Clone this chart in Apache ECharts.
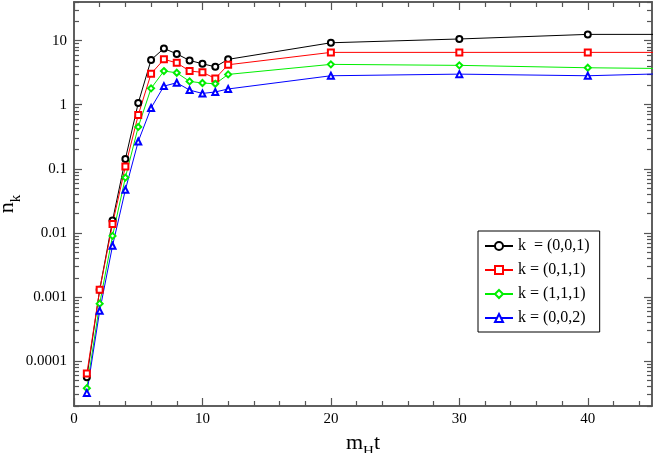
<!DOCTYPE html>
<html>
<head>
<meta charset="utf-8">
<script src="https://cdn.jsdelivr.net/npm/echarts@6/dist/echarts.min.js"></script>
<style>
  html, body { margin: 0; padding: 0; background: #fff; }
  #chartArea { width: 654px; height: 453px; }
</style>
</head>
<body>
<div id="chartArea"></div>
<script>
// time points (m_H t); the last one lies past the right edge and is clipped
let times = [1, 2, 3, 4, 5, 6, 7, 8, 9, 10, 11, 12, 20, 30, 40, 50];

let n001 = [5.6e-5, 0.0013, 0.0156, 0.142, 1.06, 5.0, 7.55, 6.2, 4.9, 4.35, 3.9, 5.1, 9.25, 10.6, 12.5, 12.5];
let n011 = [6.4e-5, 0.0013, 0.0138, 0.109, 0.69, 3.04, 5.1, 4.5, 3.35, 3.2, 2.57, 4.2, 6.55, 6.55, 6.55, 6.55];
let n111 = [3.8e-5, 0.00079, 0.0090, 0.073, 0.45, 1.80, 3.35, 3.15, 2.31, 2.18, 2.12, 2.97, 4.26, 4.11, 3.77, 3.6];
let n002 = [3.2e-5, 0.00061, 0.0063, 0.047, 0.267, 0.89, 1.95, 2.2, 1.69, 1.5, 1.58, 1.76, 2.83, 3.0, 2.83, 3.2];

let seriesNames = ['k  = (0,0,1)', 'k = (0,1,1)', 'k = (1,1,1)', 'k = (0,0,2)'];
let seriesColors = ['#000000', '#ff0000', '#00ee00', '#0000ff'];
let seriesSymbols = ['emptyCircle', 'emptyRect', 'emptyDiamond', 'emptyTriangle'];

let xMajorTicks = [0, 10, 20, 30, 40];
let xMinorTicks = [2, 4, 6, 8, 12, 14, 16, 18, 22, 24, 26, 28, 32, 34, 36, 38, 42, 44];
let yMajorTicks = [0.0001, 0.001, 0.01, 0.1, 1, 10];
let yTickLabels = ['0.0001', '0.001', '0.01', '0.1', '1', '10'];

let yMin = 2e-5;
let yMax = 40;

let serif = 'Liberation Serif';
let axisColor = '#555';

// minor log ticks: 2..9 times each decade, inside the range
let yMinorTicks = [];
for (let e = -5; e <= 1; e++) {
    for (let m = 2; m <= 9; m++) {
        let v = m * Math.pow(10, e);
        if (v >= yMin && v <= yMax) yMinorTicks.push(v);
    }
}

function pairs(ys) {
    let res = [];
    for (let i = 0; i < times.length; i++) {
        res.push([times[i], ys[i]]);
    }
    return res;
}

function xAx(pos, ticks, len, withLabel) {
    return {
        type: 'value', position: pos, min: 0, max: 45,
        axisLine: { show: true, onZero: false, lineStyle: { color: axisColor, width: 1.5 } },
        axisTick: { show: true, inside: true, length: len, customValues: ticks, lineStyle: { color: axisColor, width: 1.2 } },
        axisLabel: withLabel ? {
            show: true, customValues: xMajorTicks, margin: 6,
            fontFamily: serif, fontSize: 15, color: '#000'
        } : { show: false },
        splitLine: { show: false }
    };
}

function yAx(pos, ticks, len, withLabel) {
    return {
        type: 'log', position: pos, min: yMin, max: yMax, logBase: 10,
        axisLine: { show: true, onZero: false, lineStyle: { color: axisColor, width: 1.5 } },
        axisTick: { show: true, inside: true, length: len, customValues: ticks, lineStyle: { color: axisColor, width: 1.2 } },
        axisLabel: withLabel ? {
            show: true, customValues: yMajorTicks, margin: 7,
            fontFamily: serif, fontSize: 15, color: '#000',
            formatter: function (v) {
                let i = Math.round(Math.log10(v)) + 4;
                return yTickLabels[i] !== undefined ? yTickLabels[i] : '';
            }
        } : { show: false },
        splitLine: { show: false }
    };
}

let myChart = echarts.init(document.getElementById('chartArea'));

let nameRich = {
    m: { fontFamily: serif, fontSize: 22, lineHeight: 22, verticalAlign: 'top', color: '#000' },
    s: { fontFamily: serif, fontSize: 15, lineHeight: 28, verticalAlign: 'bottom', color: '#000' }
};

let xAxes = [xAx('bottom', xMajorTicks, 8, true), xAx('bottom', xMinorTicks, 5, false),
    xAx('top', xMajorTicks, 8, false), xAx('top', xMinorTicks, 5, false)];
xAxes[0].name = '{m|m}{s|H}{m|t}';
xAxes[0].nameLocation = 'middle';
xAxes[0].nameGap = 23;
xAxes[0].nameTextStyle = { rich: nameRich };

let yAxes = [yAx('left', yMajorTicks, 8, true), yAx('left', yMinorTicks, 5, false),
    yAx('right', yMajorTicks, 8, false), yAx('right', yMinorTicks, 5, false)];
yAxes[0].name = '{m|n}{s|k}';
yAxes[0].nameLocation = 'middle';
yAxes[0].nameGap = 50;
yAxes[0].nameRotate = 90;
yAxes[0].nameMoveOverlap = false;
yAxes[0].nameTextStyle = { rich: nameRich };

let allData = [n001, n011, n111, n002];
let series = [];
for (let i = 0; i < allData.length; i++) {
    series.push({
        name: seriesNames[i],
        type: 'line',
        xAxisIndex: 0,
        yAxisIndex: 0,
        data: pairs(allData[i]),
        symbol: seriesSymbols[i],
        symbolSize: 6,
        showAllSymbol: true,
        clip: true,
        lineStyle: { color: seriesColors[i], width: 1 },
        itemStyle: { color: seriesColors[i], borderColor: seriesColors[i], borderWidth: 1.2 }
    });
}

let option = {
    animation: false,
    backgroundColor: '#fff',
    grid: { left: 74, right: 2, top: 2, bottom: 47, containLabel: false, outerBoundsMode: 'none' },
    legend: {
        orient: 'vertical',
        left: 478,
        top: 231,
        width: 120,
        padding: [7, 10, 6, 6],
        itemGap: 8,
        itemWidth: 28,
        itemHeight: 10,
        borderColor: '#000',
        borderWidth: 1,
        backgroundColor: '#fff',
        textStyle: { fontFamily: serif, fontSize: 16, color: '#000' },
        data: seriesNames
    },
    xAxis: xAxes,
    yAxis: yAxes,
    series: series
};

myChart.setOption(option);
</script>
</body>
</html>
